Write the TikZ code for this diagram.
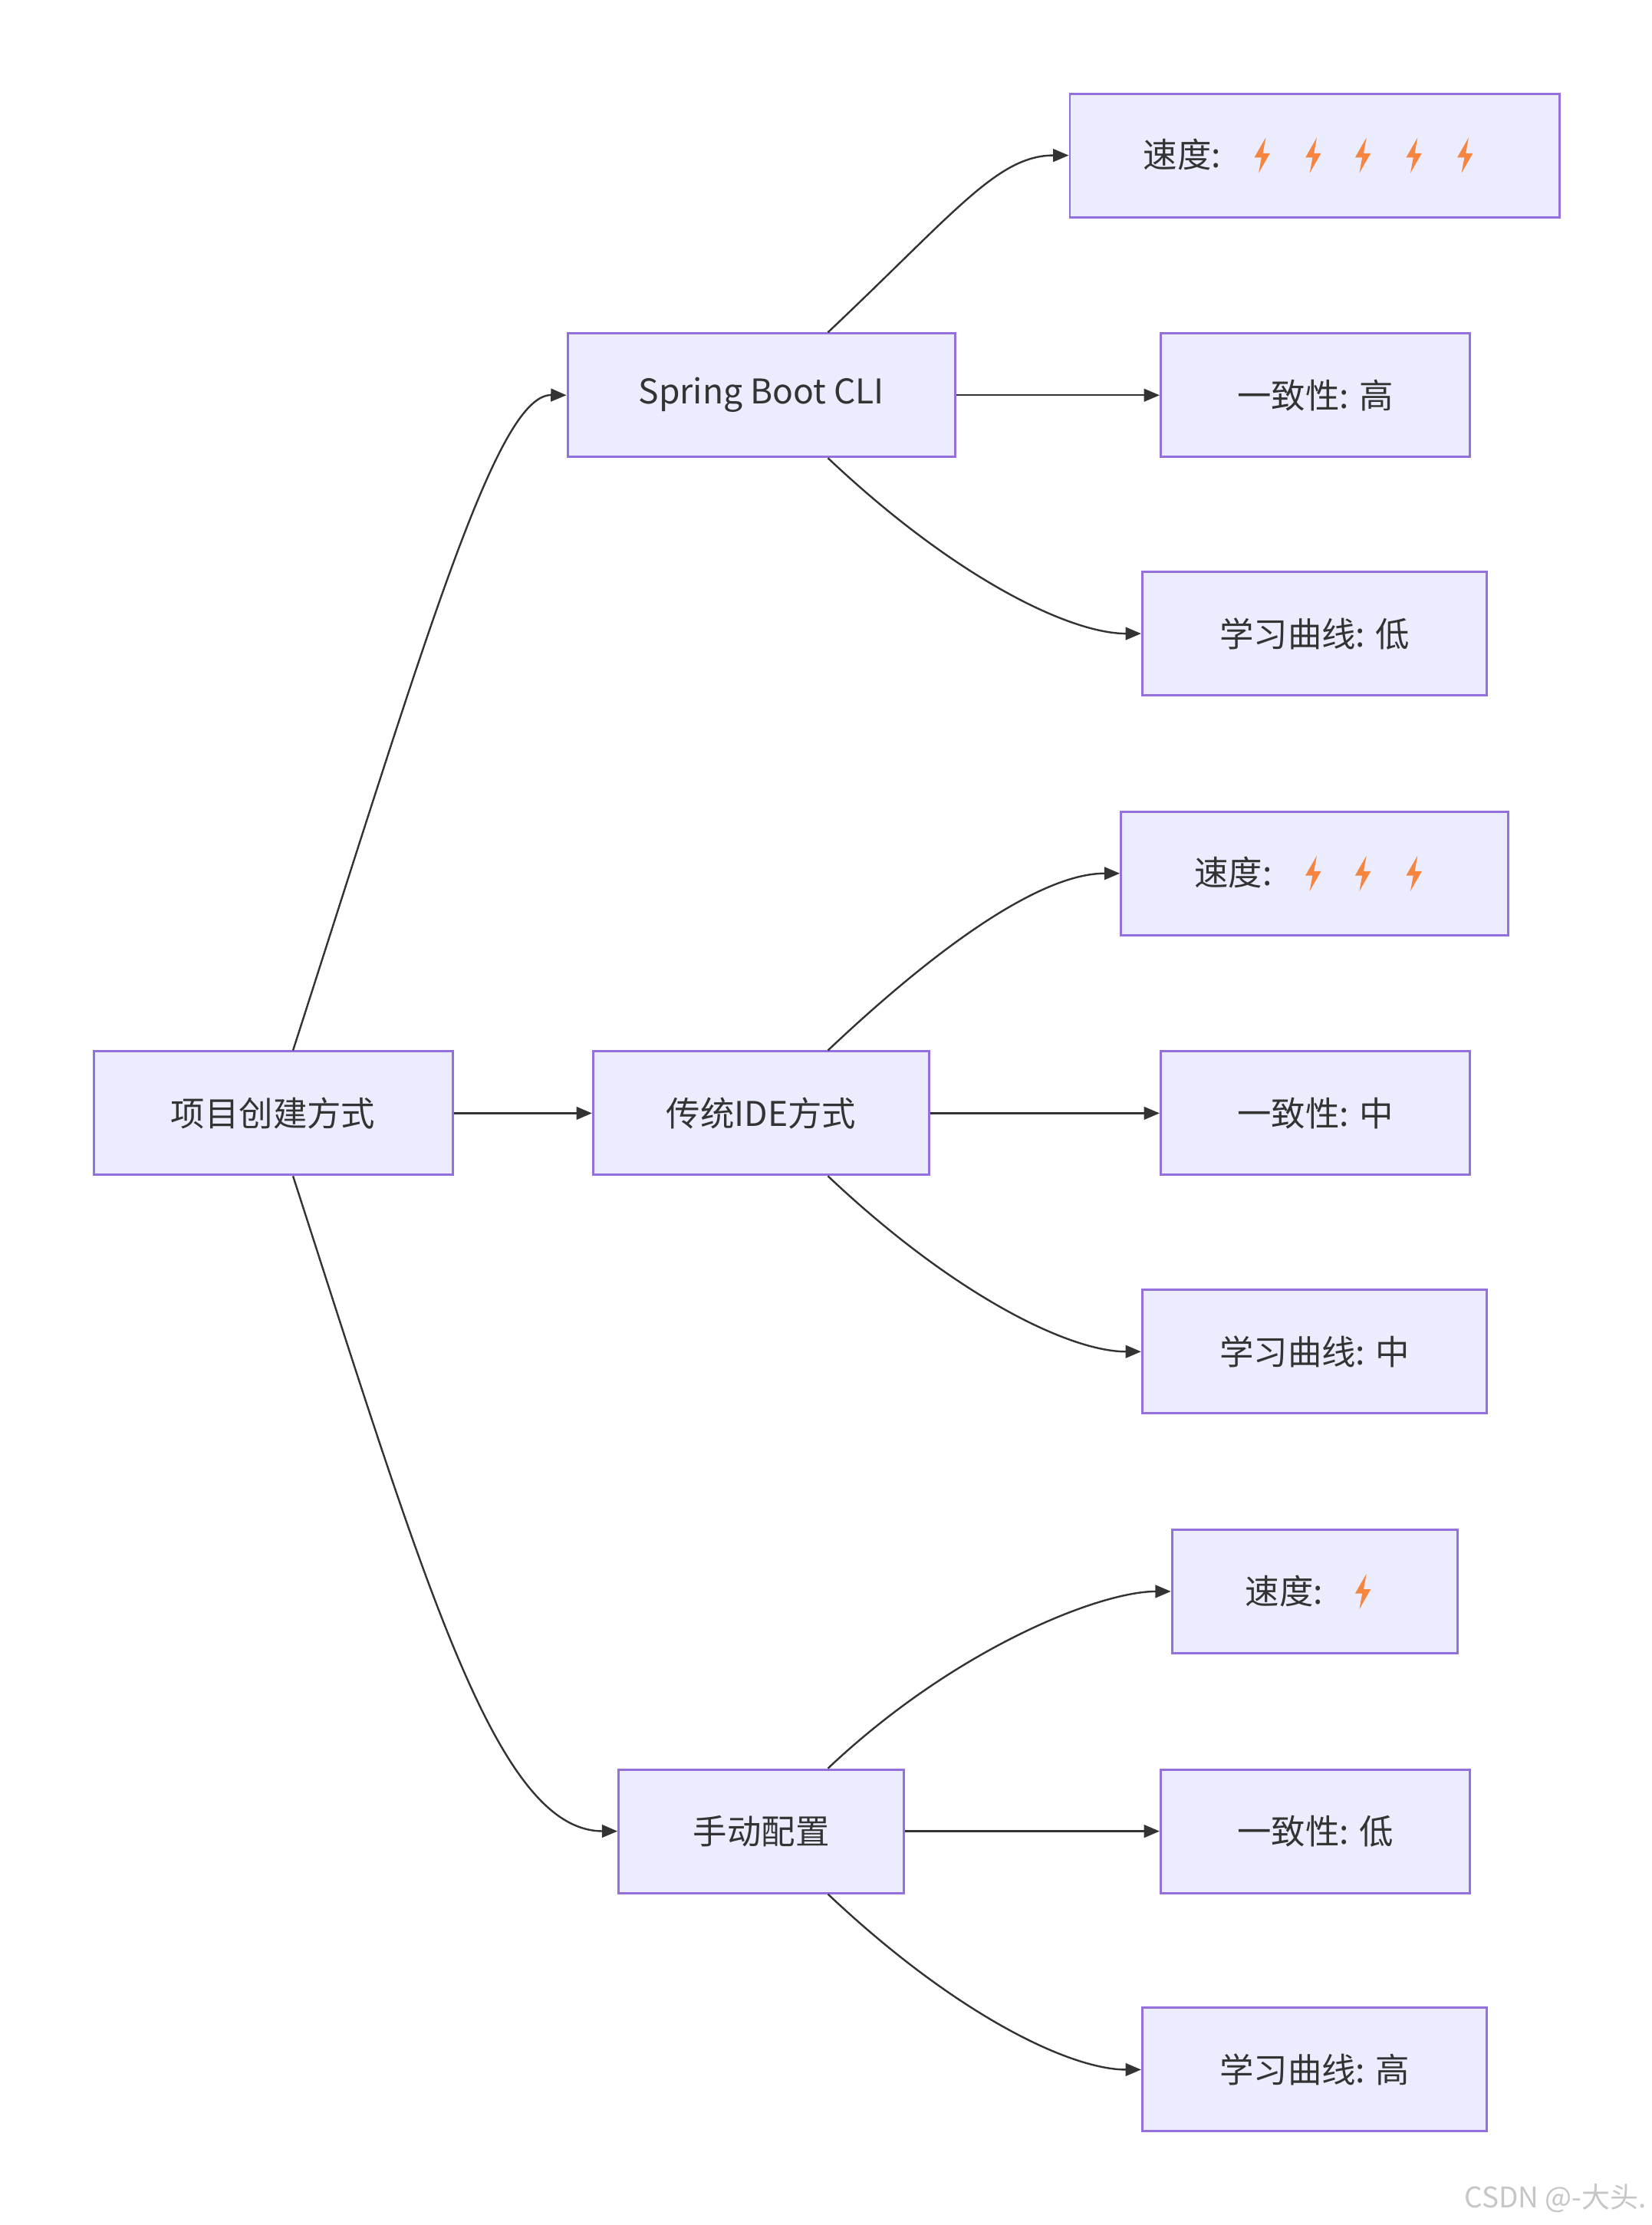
\documentclass[tikz,border=0pt]{standalone}
\usepackage{fontspec}
\setmainfont{Noto Sans CJK SC}
\usetikzlibrary{arrows.meta}
\definecolor{nfill}{HTML}{ECECFF}
\definecolor{nline}{HTML}{9370DB}
\definecolor{eline}{HTML}{333333}
\definecolor{bolt}{HTML}{F5853F}
\begin{document}
\begin{tikzpicture}[x=1pt,y=-1pt,
  box/.style={draw=nline,fill=nfill,line width=1.6pt,inner sep=0pt,text=eline,font=\fontsize{24}{28}\selectfont},
  edge/.style={draw=eline,line width=1.3pt,-{Triangle[length=11pt,width=9pt]}},
  lbl/.style={text=eline,font=\fontsize{24}{28}\selectfont,inner sep=0pt}]
\useasboundingbox[fill=white] (0,0) rectangle (1164,1568);
\node[box,minimum width=253,minimum height=87] (root) at (192.5,784.5) {项目创建方式};
\node[box,minimum width=273,minimum height=87] (cli) at (536.5,278.5) {Spring Boot CLI};
\node[box,minimum width=237,minimum height=87] (ide) at (536.5,784.5) {传统IDE方式};
\node[box,minimum width=201,minimum height=87] (man) at (536.5,1290.5) {手动配置};
\node[box,minimum width=345,minimum height=87] (s5) at (926.5,109.5) {};
\node[box,minimum width=218,minimum height=87] (c1) at (927,278.5) {一致性: 高};
\node[box,minimum width=243,minimum height=87] (l1) at (926.5,446.5) {学习曲线: 低};
\node[box,minimum width=273,minimum height=87] (s3) at (926.5,615.5) {};
\node[box,minimum width=218,minimum height=87] (c2) at (927,784.5) {一致性: 中};
\node[box,minimum width=243,minimum height=87] (l2) at (926.5,952.5) {学习曲线: 中};
\node[box,minimum width=201,minimum height=87] (s1) at (926.5,1121.5) {};
\node[box,minimum width=218,minimum height=87] (c3) at (927,1290.5) {一致性: 低};
\node[box,minimum width=243,minimum height=87] (l3) at (926.5,1458.5) {学习曲线: 高};
\node[lbl] (t5) at (833,109) {速度:};
\node[lbl] (t3) at (869,615) {速度:};
\node[lbl] (t1) at (905,1121) {速度:};
\foreach \x in {889,925,960,996,1032}{\fill[bolt] (\x+3,97) -- ++(-8,14) -- ++(5,0) -- ++(-2,11) -- ++(8,-14) -- ++(-5,0) -- cycle;}
\foreach \x in {925,960,996}{\fill[bolt] (\x+3,603) -- ++(-8,14) -- ++(5,0) -- ++(-2,11) -- ++(8,-14) -- ++(-5,0) -- cycle;}
\foreach \x in {960}{\fill[bolt] (\x+3,1109) -- ++(-8,14) -- ++(5,0) -- ++(-2,11) -- ++(8,-14) -- ++(-5,0) -- cycle;}
\draw[edge] (root.north) ++(14,0) .. controls (300,450) and (350,278) .. (cli.west);
\draw[edge] (root.east) -- (ide.west);
\draw[edge] (root.south) ++(14,0) .. controls (300,1118) and (350,1290) .. (man.west);
\foreach \p/\a/\b/\c in {cli/s5/c1/l1, ide/s3/c2/l2, man/s1/c3/l3}{
  \draw[edge] (\p.north) ++(47,0) .. controls +(90,-85) and ([xshift=-50]\a.west) .. (\a.west);
  \draw[edge] (\p.east) -- (\b.west);
  \draw[edge] (\p.south) ++(47,0) .. controls +(90,85) and ([xshift=-50]\c.west) .. (\c.west);
}
\node[text=gray!45,font=\fontsize{20}{22}\selectfont,anchor=east] (wm) at (1164,1549) {CSDN @-大头.};
\end{tikzpicture}
\end{document}
